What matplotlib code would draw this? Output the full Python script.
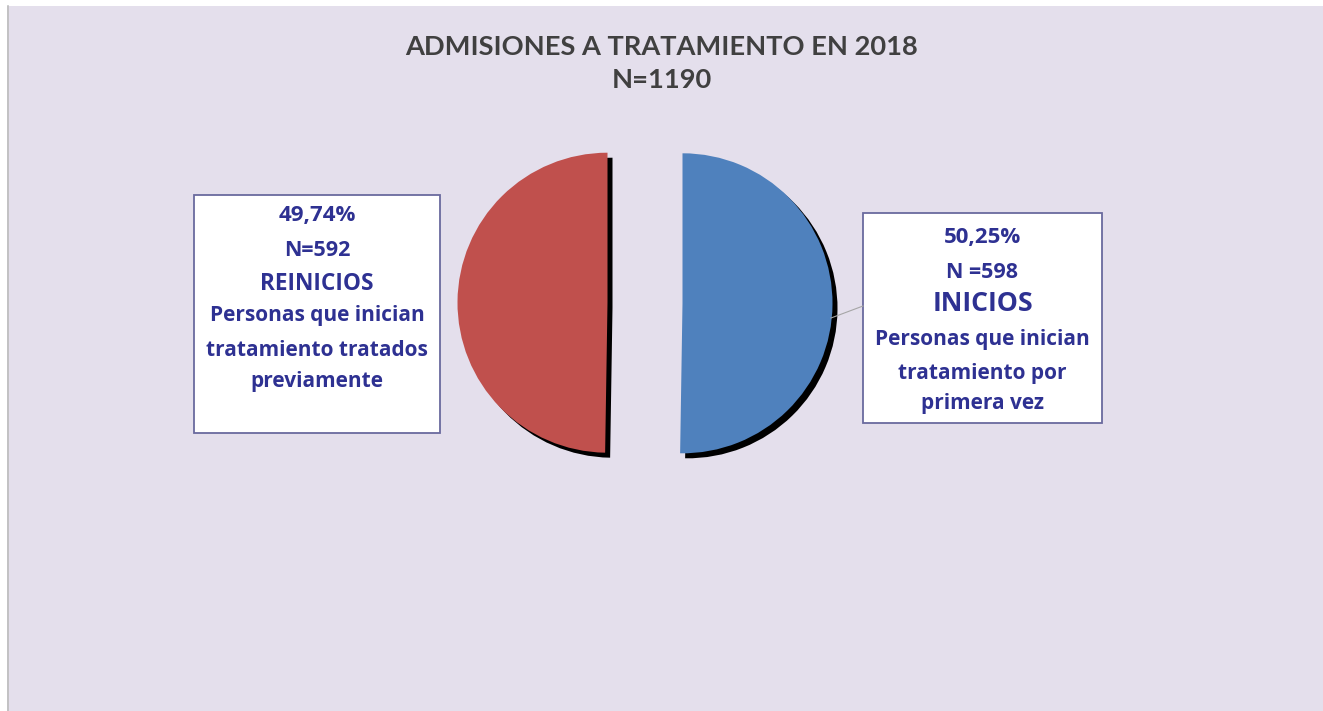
import matplotlib.pyplot as plt
from matplotlib.patches import Rectangle

# Data
categories = ['INICIOS', 'REINICIOS']
counts = [598, 592]
pct_labels = ['50,25%', '49,74%']
n_labels = ['N =598', 'N=592']
descriptions = [['Personas que inician', 'tratamiento por', 'primera vez'],
                ['Personas que inician', 'tratamiento tratados', 'previamente']]
colors = ['#4F81BD', '#C0504D']
title = 'ADMISIONES A TRATAMIENTO EN 2018\nN=1190'

W, H = 1323, 711
plt.rcParams['font.family'] = ['Lato', 'DejaVu Sans']

fig = plt.figure(figsize=(W / 100, H / 100), dpi=100, facecolor='white')
ax = fig.add_axes([0, 0, 1, 1])

# background chart area
ax.add_patch(Rectangle((7, 0), W - 7, H - 6, facecolor='#E4DFEC',
                       edgecolor='none', zorder=0))
ax.plot([7.5, 7.5], [0, H - 6], color='#BDBDBD', lw=1.2, zorder=1)

# pie: shadow first, then slices (explode is in data units here)
cx, cy, r = 645, H - 303, 150
expl = [0.25 * r, 0.25 * r]
ax.pie(counts, radius=r, center=(cx + 5, cy - 5), startangle=90,
       counterclock=False, explode=expl, colors=['black', 'black'],
       frame=True, wedgeprops=dict(linewidth=0, zorder=2))
ax.pie(counts, radius=r, center=(cx, cy), startangle=90,
       counterclock=False, explode=expl, colors=colors,
       frame=True, wedgeprops=dict(linewidth=0, zorder=3))
ax.set_xlim(0, W)
ax.set_ylim(0, H)
ax.set_aspect('auto')
ax.axis('off')

# title
t1, t2 = title.split('\n')
ax.text(662, H - 47, t1, ha='center', va='center',
        fontsize=19.6, fontweight='bold', color='#404040')
ax.text(662, H - 80, t2, ha='center', va='center',
        fontsize=19.6, fontweight='bold', color='#404040')

# label boxes
txt_col = '#2E3192'
box_font = ['Open Sans', 'DejaVu Sans']
boxes = [(863, 213, 1102, 423), (194, 195, 440, 433)]
line_y = [[238, 272, 304, 340, 373, 404], [215, 250, 284, 316, 351, 381]]
for i in range(2):
    x0, y0, x1, y1 = boxes[i]
    ax.add_patch(Rectangle((x0, H - y1), x1 - x0, y1 - y0, facecolor='white',
                           edgecolor='#6A6A9E', lw=1.3, zorder=4))
    xc = (x0 + x1) / 2
    lines = [pct_labels[i], n_labels[i], categories[i]] + descriptions[i]
    sizes = [16, 15.5, 19.2 if i == 0 else 16.3, 15, 15, 15]
    for j, s in enumerate(lines):
        ax.text(xc, H - line_y[i][j], s, ha='center', va='center',
                fontsize=sizes[j], fontweight='bold', color=txt_col,
                family=box_font, zorder=5)

# leader line to INICIOS box
ax.plot([831, 863], [H - 318, H - 306], color='#A6A6A6', lw=0.8, zorder=4)

fig.savefig('out.png', dpi=100, facecolor=fig.get_facecolor())
